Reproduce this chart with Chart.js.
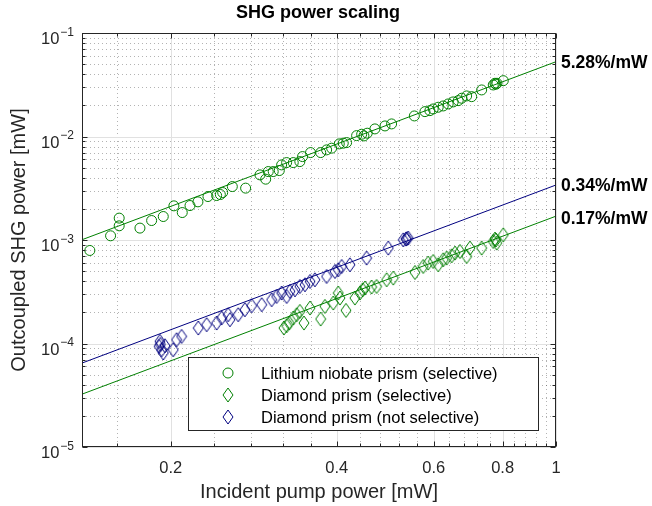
<!DOCTYPE html>
<html>
<head>
<meta charset="utf-8">
<script src="https://cdn.jsdelivr.net/npm/chart.js@4.4.1/dist/chart.umd.min.js"></script>
<style>
html, body { margin: 0; padding: 0; background: #fff; }
</style>
</head>
<body>
<canvas id="shg-chart" width="652" height="506"></canvas>
<script>
// ticks
const xMajor = [0.2, 0.4, 0.6, 0.8, 1];
const xMinor = [0.16, 0.24, 0.28, 0.32, 0.36, 0.44, 0.48, 0.52, 0.56, 0.64, 0.68, 0.72, 0.76, 0.84, 0.88, 0.92, 0.96];
const xLabels = ['0.2', '0.4', '0.6', '0.8', '1'];
const yMajor = [1e-5, 1e-4, 1e-3, 1e-2, 1e-1];
const yMinorMult = [2, 3, 4, 5, 6, 7, 8, 9];

// Lithium niobate prism (selective) - [mW]
const lnX = [0.1426, 0.1555, 0.1612, 0.1612, 0.1758, 0.1846, 0.1938, 0.2026, 0.2098, 0.2167, 0.2240, 0.2336, 0.2422, 0.2460, 0.2484, 0.2586, 0.2734, 0.2903, 0.2973, 0.3005, 0.3068, 0.3147, 0.3178, 0.3245, 0.3336, 0.3429, 0.3468, 0.3586, 0.3741, 0.3835, 0.3916, 0.4043, 0.4111, 0.4169, 0.4347, 0.4440, 0.4482, 0.4544, 0.4692, 0.4894, 0.5031, 0.5533, 0.5783, 0.5904, 0.5987, 0.6113, 0.6242, 0.6373, 0.6508, 0.6646, 0.6742, 0.6884, 0.7030, 0.7330, 0.7694, 0.7749, 0.7780, 0.7815, 0.8024];
const lnY = [7.92e-4, 1.098e-3, 1.627e-3, 1.371e-3, 1.303e-3, 1.542e-3, 1.686e-3, 2.138e-3, 1.842e-3, 2.153e-3, 2.337e-3, 2.630e-3, 2.689e-3, 2.750e-3, 2.874e-3, 3.283e-3, 3.170e-3, 4.258e-3, 3.870e-3, 4.584e-3, 4.584e-3, 4.687e-3, 5.318e-3, 5.597e-3, 5.597e-3, 5.722e-3, 6.397e-3, 6.993e-3, 6.993e-3, 7.425e-3, 7.711e-3, 8.484e-3, 8.616e-3, 8.732e-3, 1.020e-2, 1.052e-2, 1.013e-2, 1.076e-2, 1.184e-2, 1.265e-2, 1.323e-2, 1.580e-2, 1.739e-2, 1.778e-2, 1.846e-2, 1.917e-2, 1.973e-2, 2.063e-2, 2.158e-2, 2.221e-2, 2.343e-2, 2.466e-2, 2.427e-2, 2.818e-2, 3.147e-2, 3.268e-2, 3.200e-2, 3.268e-2, 3.463e-2];

// Diamond prism (selective)
const dsX = [0.3208, 0.3245, 0.3281, 0.3336, 0.3384, 0.3429, 0.3489, 0.3578, 0.3741, 0.3808, 0.3943, 0.4026, 0.4055, 0.4158, 0.4316, 0.4408, 0.4458, 0.4502, 0.4628, 0.4726, 0.4929, 0.5067, 0.5548, 0.5742, 0.5862, 0.5987, 0.6113, 0.6242, 0.6332, 0.6467, 0.6558, 0.6694, 0.6884, 0.6981, 0.7330, 0.7694, 0.7749, 0.7805, 0.7780, 0.8024];
const dsY = [1.411e-4, 1.485e-4, 1.577e-4, 1.762e-4, 1.897e-4, 2.041e-4, 1.577e-4, 2.202e-4, 1.724e-4, 2.281e-4, 2.460e-4, 3.073e-4, 2.749e-4, 2.087e-4, 2.749e-4, 3.073e-4, 3.306e-4, 3.433e-4, 3.510e-4, 3.558e-4, 4.127e-4, 4.286e-4, 4.855e-4, 5.549e-4, 5.984e-4, 6.201e-4, 5.762e-4, 6.440e-4, 6.688e-4, 7.038e-4, 7.473e-4, 7.745e-4, 6.929e-4, 8.352e-4, 8.352e-4, 9.672e-4, 1.020e-3, 9.335e-4, 1.000e-3, 1.122e-3];

// Diamond prism (not selective)
const dnX = [0.1911, 0.1905, 0.1925, 0.1938, 0.1915, 0.1952, 0.2020, 0.2049, 0.2092, 0.2243, 0.2323, 0.2422, 0.2473, 0.2542, 0.2560, 0.2651, 0.2726, 0.2804, 0.2924, 0.3048, 0.3112, 0.3178, 0.3245, 0.3290, 0.3360, 0.3429, 0.3503, 0.3578, 0.3652, 0.3835, 0.3971, 0.4026, 0.4084, 0.4227, 0.4532, 0.4962, 0.5283, 0.5342, 0.5393, 0.5360];
const dnY = [1.047e-4, 9.37e-5, 8.71e-5, 8.10e-5, 9.80e-5, 9.52e-5, 8.71e-5, 1.088e-4, 1.171e-4, 1.411e-4, 1.519e-4, 1.577e-4, 1.762e-4, 1.897e-4, 1.697e-4, 1.897e-4, 2.120e-4, 2.317e-4, 2.369e-4, 2.647e-4, 2.849e-4, 3.073e-4, 2.849e-4, 3.185e-4, 3.306e-4, 3.558e-4, 3.696e-4, 3.976e-4, 4.127e-4, 4.443e-4, 4.964e-4, 5.156e-4, 5.549e-4, 5.762e-4, 6.688e-4, 8.352e-4, 1.004e-3, 1.020e-3, 1.043e-3, 1.030e-3];

// fit lines (end points)
const fitX = [0.138, 1];
const fitLnY = [1.006e-3, 5.28e-2];
const fitDnY = [6.47e-5, 3.4e-3];
const fitDsY = [3.24e-5, 1.7e-3];
const fitLabels = ['5.28%/mW', '0.34%/mW', '0.17%/mW'];

const legendLabels = ['Lithium niobate prism (selective)', 'Diamond prism (selective)', 'Diamond prism (not selective)'];

//colores
const green = '#008000';
const blue = '#000080';
const axisColor = '#262626';
const font = '"Liberation Sans", Arial, Helvetica, sans-serif';

function pts(xs, ys) {
    return xs.map((v, i) => ({x: v, y: ys[i]}));
}

// diamond marker as canvas image
function diamond(color) {
    const c = document.createElement('canvas');
    c.width = 12; c.height = 16;
    const g = c.getContext('2d');
    g.strokeStyle = color;
    g.lineWidth = 1;
    g.beginPath();
    g.moveTo(6, 1); g.lineTo(11, 8); g.lineTo(6, 15); g.lineTo(1, 8); g.closePath();
    g.stroke();
    return c;
}
const greenDiamond = diamond(green);
const blueDiamond = diamond(blue);

const shgAxes = {
    id: 'shgAxes',
    beforeDatasetsDraw(chart) {
        const {ctx, chartArea: a, scales: {x, y}} = chart;
        ctx.save();
        ctx.lineWidth = 1;
        // minor grid
        ctx.strokeStyle = 'rgba(38,38,38,0.35)';
        ctx.setLineDash([1, 3]);
        ctx.beginPath();
        xMinor.forEach(v => {
            const px = Math.round(x.getPixelForValue(v)) + 0.5;
            ctx.moveTo(px, a.top); ctx.lineTo(px, a.bottom);
        });
        yMajor.slice(0, -1).forEach(d => {
            yMinorMult.forEach(m => {
                const py = Math.round(y.getPixelForValue(d * m)) + 0.5;
                ctx.moveTo(a.left, py); ctx.lineTo(a.right, py);
            });
        });
        ctx.stroke();
        // major grid
        ctx.setLineDash([]);
        ctx.strokeStyle = '#e1e1e1';
        ctx.beginPath();
        xMajor.forEach(v => {
            const px = Math.round(x.getPixelForValue(v)) + 0.5;
            ctx.moveTo(px, a.top); ctx.lineTo(px, a.bottom);
        });
        yMajor.forEach(v => {
            const py = Math.round(y.getPixelForValue(v)) + 0.5;
            ctx.moveTo(a.left, py); ctx.lineTo(a.right, py);
        });
        ctx.stroke();
        ctx.restore();
    },
    afterDatasetsDraw(chart) {
        const {ctx, chartArea: a, scales: {x, y}} = chart;
        ctx.save();
        ctx.lineWidth = 1;
        ctx.strokeStyle = axisColor;
        const L = Math.round(a.left) + 0.5, R = Math.round(a.right) - 0.5;
        const T = Math.round(a.top) + 0.5, B = Math.round(a.bottom) - 0.5;
        ctx.strokeRect(L, T, R - L, B - T);

        // tick marks, inward on all four sides
        ctx.beginPath();
        const xt = (v, len) => {
            const px = Math.round(x.getPixelForValue(v)) + 0.5;
            ctx.moveTo(px, B); ctx.lineTo(px, B - len);
            ctx.moveTo(px, T); ctx.lineTo(px, T + len);
        };
        const yt = (v, len) => {
            const py = Math.round(y.getPixelForValue(v)) + 0.5;
            ctx.moveTo(L, py); ctx.lineTo(L + len, py);
            ctx.moveTo(R, py); ctx.lineTo(R - len, py);
        };
        xMajor.forEach(v => xt(v, 5));
        xMinor.forEach(v => xt(v, 3));
        yMajor.forEach(v => yt(v, 5));
        yMajor.slice(0, -1).forEach(d => yMinorMult.forEach(m => yt(d * m, 3)));
        ctx.stroke();

        // x tick labels
        ctx.fillStyle = axisColor;
        ctx.font = '16.5px ' + font;
        ctx.textAlign = 'center';
        ctx.textBaseline = 'middle';
        xMajor.forEach((v, i) => {
            ctx.fillText(xLabels[i], x.getPixelForValue(v), 468);
        });

        // y tick labels 10^n
        ctx.textBaseline = 'alphabetic';
        yMajor.forEach(v => {
            const py = y.getPixelForValue(v);
            const ex = '\u2212' + Math.round(-Math.log10(v));
            ctx.font = '12px ' + font;
            const w = ctx.measureText(ex).width;
            ctx.textAlign = 'left';
            ctx.fillText(ex, 74 - w, py + 2.5);
            ctx.font = '16.5px ' + font;
            ctx.textAlign = 'right';
            ctx.fillText('10', 73 - w, py + 11);
        });

        // axis titles
        ctx.font = '20px ' + font;
        ctx.textAlign = 'center';
        ctx.textBaseline = 'middle';
        ctx.fillText('Incident pump power [mW]', 319, 492);
        ctx.save();
        ctx.translate(19, 240);
        ctx.rotate(-Math.PI / 2);
        ctx.fillText('Outcoupled SHG power [mW]', 0, 0);
        ctx.restore();

        // title
        ctx.fillStyle = '#000';
        ctx.font = 'bold 18px ' + font;
        ctx.fillText('SHG power scaling', 318, 13);

        // efficiency labels at right end of fits
        ctx.font = 'bold 17.5px ' + font;
        ctx.textAlign = 'left';
        [fitLnY, fitDnY, fitDsY].forEach((f, i) => {
            const py = y.getPixelForValue(f[1]);
            ctx.fillText(fitLabels[i], 561, py + (i == 2 ? 3 : 1));
        });

        // legend
        const lx = 188.5, ly = 357.5, lw = 350, lh = 73;
        ctx.fillStyle = '#fff';
        ctx.fillRect(lx, ly, lw, lh);
        ctx.strokeStyle = axisColor;
        ctx.strokeRect(lx, ly, lw, lh);
        const rows = [373, 395, 417];
        ctx.strokeStyle = green;
        ctx.beginPath();
        ctx.arc(228, rows[0], 5, 0, 2 * Math.PI);
        ctx.stroke();
        ctx.drawImage(greenDiamond, 222, rows[1] - 8);
        ctx.drawImage(blueDiamond, 222, rows[2] - 8);
        ctx.fillStyle = '#000';
        ctx.font = '16.5px ' + font;
        ctx.textBaseline = 'middle';
        legendLabels.forEach((t, i) => ctx.fillText(t, 261, rows[i] + 1));
        ctx.restore();
    }
};

const ctx1 = document.getElementById('shg-chart').getContext('2d');
const myChart1 = new Chart(ctx1, {
    type: 'scatter',
    data: {
        datasets: [
            {
                label: legendLabels[0],
                data: pts(lnX, lnY),
                pointStyle: 'circle',
                pointRadius: 5,
                borderColor: green,
                backgroundColor: 'rgba(0,0,0,0)',
                borderWidth: 1
            },
            {
                label: legendLabels[1],
                data: pts(dsX, dsY),
                pointStyle: greenDiamond,
                borderColor: green,
                backgroundColor: 'rgba(0,0,0,0)'
            },
            {
                label: legendLabels[2],
                data: pts(dnX, dnY),
                pointStyle: blueDiamond,
                borderColor: blue,
                backgroundColor: 'rgba(0,0,0,0)'
            },
            {
                type: 'line',
                data: pts(fitX, fitLnY),
                borderColor: green,
                borderWidth: 1,
                pointRadius: 0
            },
            {
                type: 'line',
                data: pts(fitX, fitDnY),
                borderColor: blue,
                borderWidth: 1,
                pointRadius: 0
            },
            {
                type: 'line',
                data: pts(fitX, fitDsY),
                borderColor: green,
                borderWidth: 1,
                pointRadius: 0
            }
        ]
    },
    options: {
        responsive: false,
        animation: false,
        devicePixelRatio: 1,
        layout: {
            padding: {left: 82, right: 96, top: 33, bottom: 59}
        },
        plugins: {
            legend: {display: false},
            tooltip: {enabled: false}
        },
        scales: {
            x: {type: 'logarithmic', min: 0.138, max: 1, display: false},
            y: {type: 'logarithmic', min: 1e-5, max: 1e-1, display: false}
        }
    },
    plugins: [shgAxes]
});
</script>
</body>
</html>
